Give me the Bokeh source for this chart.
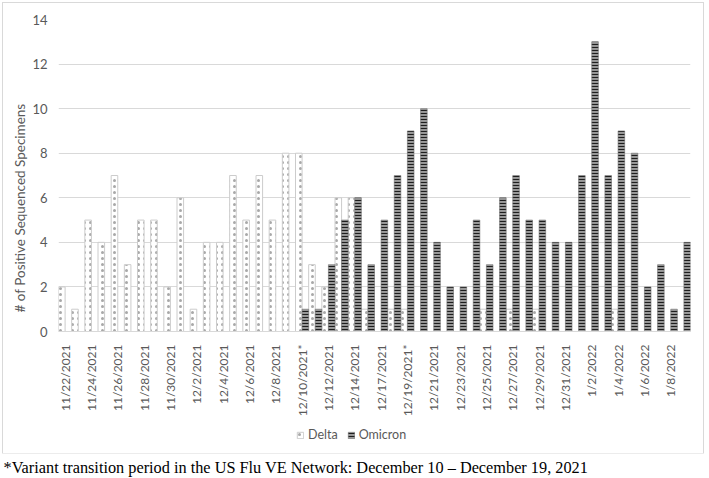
import numpy as np
from bokeh.plotting import figure
from bokeh.layouts import column
from bokeh.models import (FixedTicker, Legend, LegendItem, Label, Title,
                          ColumnDataSource, Range1d)
from bokeh.transform import dodge
from bokeh.embed import file_html
from bokeh.resources import INLINE

# ---- data ----
dates = ["11/22/2021", "11/23/2021", "11/24/2021", "11/25/2021", "11/26/2021", "11/27/2021",
         "11/28/2021", "11/29/2021", "11/30/2021", "12/1/2021", "12/2/2021", "12/3/2021",
         "12/4/2021", "12/5/2021", "12/6/2021", "12/7/2021", "12/8/2021", "12/9/2021",
         "12/10/2021*", "12/11/2021", "12/12/2021", "12/13/2021", "12/14/2021", "12/15/2021",
         "12/17/2021", "12/18/2021", "12/19/2021*", "12/20/2021", "12/21/2021", "12/22/2021",
         "12/23/2021", "12/24/2021", "12/25/2021", "12/26/2021", "12/27/2021", "12/28/2021",
         "12/29/2021", "12/30/2021", "12/31/2021", "1/1/2022", "1/2/2022", "1/3/2022",
         "1/4/2022", "1/5/2022", "1/6/2022", "1/7/2022", "1/8/2022", "1/9/2022"]

delta = [2, 1, 5, 4, 7, 3, 5, 5, 2, 6, 1, 4, 4, 7, 5, 7, 5, 8, 8, 3, 2, 6, 6, 1,
         0, 1, 1, 0, 0, 0, 0, 0, 1, 0, 1, 0, 1, 0, 0, 0, 0, 0, 1, 0, 0, 0, 0, 0]

omicron = [0, 0, 0, 0, 0, 0, 0, 0, 0, 0, 0, 0, 0, 0, 0, 0, 0, 0, 1, 1, 3, 5, 6, 3,
           5, 7, 9, 10, 4, 2, 2, 5, 3, 6, 7, 5, 5, 4, 4, 7, 13, 7, 9, 8, 2, 3, 1, 4]

y_ticks = [0, 2, 4, 6, 8, 10, 12, 14]
series_names = ["Delta", "Omicron"]
y_title = "# of Positive Sequenced Specimens"
footnote = "*Variant transition period in the US Flu VE Network: December 10 \u2013 December 19, 2021"

n = len(dates)
idx = list(range(n))
label_idx = idx[::2]
tick_labels = {i: dates[i] for i in label_idx}

src = ColumnDataSource(dict(x=idx, delta=delta, omicron=omicron, date=dates))

GRAY_TXT = "#595959"
FONT = "Lato"

DELTA_STYLE = dict(fill_color="white", line_color="#cccccc", line_width=1,
                   hatch_pattern="dot", hatch_color="#a8a8a8", hatch_scale=6,
                   hatch_weight=1)
OMI_STYLE = dict(fill_color="#9a9a9a", line_color="#707070", line_width=0.6,
                 hatch_pattern="horizontal_line", hatch_color="#1e1e1e",
                 hatch_scale=3, hatch_weight=1.1)

# ---- main chart ----
p = figure(width=700, height=421, output_backend="svg", toolbar_location=None,
           x_range=Range1d(-0.5, n - 0.5), y_range=Range1d(0, 14),
           min_border_left=55, min_border_right=13, min_border_top=16,
           min_border_bottom=93)
p.frame_align = False
p.outline_line_color = None
p.background_fill_color = "white"
p.border_fill_color = "white"

p.vbar(x=dodge("x", -0.25, range=p.x_range), top="delta", width=0.5,
       source=src, **DELTA_STYLE)
p.vbar(x=dodge("x", 0.25, range=p.x_range), top="omicron", width=0.5,
       source=src, **OMI_STYLE)

p.xgrid.visible = False
p.ygrid.grid_line_color = "#d9d9d9"
p.ygrid.grid_line_width = 1

p.yaxis.ticker = FixedTicker(ticks=y_ticks)
p.yaxis.axis_line_color = None
p.yaxis.major_tick_line_color = None
p.yaxis.minor_tick_line_color = None
p.yaxis.major_label_text_color = GRAY_TXT
p.yaxis.major_label_text_font = FONT
p.yaxis.major_label_text_font_size = "13px"
p.yaxis.major_label_standoff = 5

# y-axis title, placed in the left panel and positioned like the original
p.add_layout(Title(text=y_title, align="left", offset=19, standoff=3,
                   text_font=FONT, text_font_style="normal",
                   text_font_size="13.5px", text_color=GRAY_TXT), "left")

p.xaxis.ticker = FixedTicker(ticks=label_idx)
p.xaxis.major_label_overrides = tick_labels
p.xaxis.major_label_orientation = np.pi / 2
p.xaxis.axis_line_color = "#d9d9d9"
p.xaxis.major_tick_line_color = None
p.xaxis.minor_tick_line_color = None
p.xaxis.major_label_text_color = GRAY_TXT
p.xaxis.major_label_text_font = FONT
p.xaxis.major_label_text_font_size = "12px"
p.xaxis.major_label_standoff = 7

# ---- legend strip (inside the chart border) ----
pl = figure(width=700, height=29, output_backend="svg", toolbar_location=None,
            x_range=Range1d(0, 1), y_range=Range1d(0, 1),
            x_axis_location=None, y_axis_location=None,
            min_border=0, min_border_left=0, min_border_right=0,
            min_border_top=0, min_border_bottom=0)
pl.frame_align = False
pl.outline_line_color = None
pl.grid.visible = False
# legend proxies (their single bar lies outside the visible range)
ld = pl.vbar(x=[5], top=[1], width=0.5, **DELTA_STYLE)
lo = pl.vbar(x=[5], top=[1], width=0.5, **OMI_STYLE)
legend = Legend(items=[LegendItem(label=series_names[0], renderers=[ld]),
                       LegendItem(label=series_names[1], renderers=[lo])],
                orientation="horizontal", location=(293, 11),
                glyph_width=8, glyph_height=8, label_height=12,
                label_text_font_size="12.5px",
                label_text_font=FONT, label_text_color=GRAY_TXT,
                label_standoff=4, spacing=9, padding=0, margin=0,
                border_line_color=None, background_fill_alpha=0)
pl.add_layout(legend, "center")

inner = column(p, pl, spacing=0)
inner.margin = (3, 0, 0, 3)
inner.styles = {"outline": "1px solid #d9d9d9"}

# ---- footnote (outside the chart border) ----
p2 = figure(width=709, height=25, output_backend="svg", toolbar_location=None,
            x_range=Range1d(0, 709), y_range=Range1d(0, 25),
            x_axis_location=None, y_axis_location=None,
            min_border=0, min_border_left=0, min_border_right=0,
            min_border_top=0, min_border_bottom=0)
p2.frame_align = False
p2.outline_line_color = None
p2.grid.visible = False
p2.add_layout(Label(x=3, y=11, text=footnote, text_font="Liberation Serif",
                    text_font_size="16.3px", text_color="black",
                    text_baseline="middle", text_align="left"))

layout = column(inner, p2, spacing=0)

open("out.html", "w").write(file_html(layout, INLINE))
